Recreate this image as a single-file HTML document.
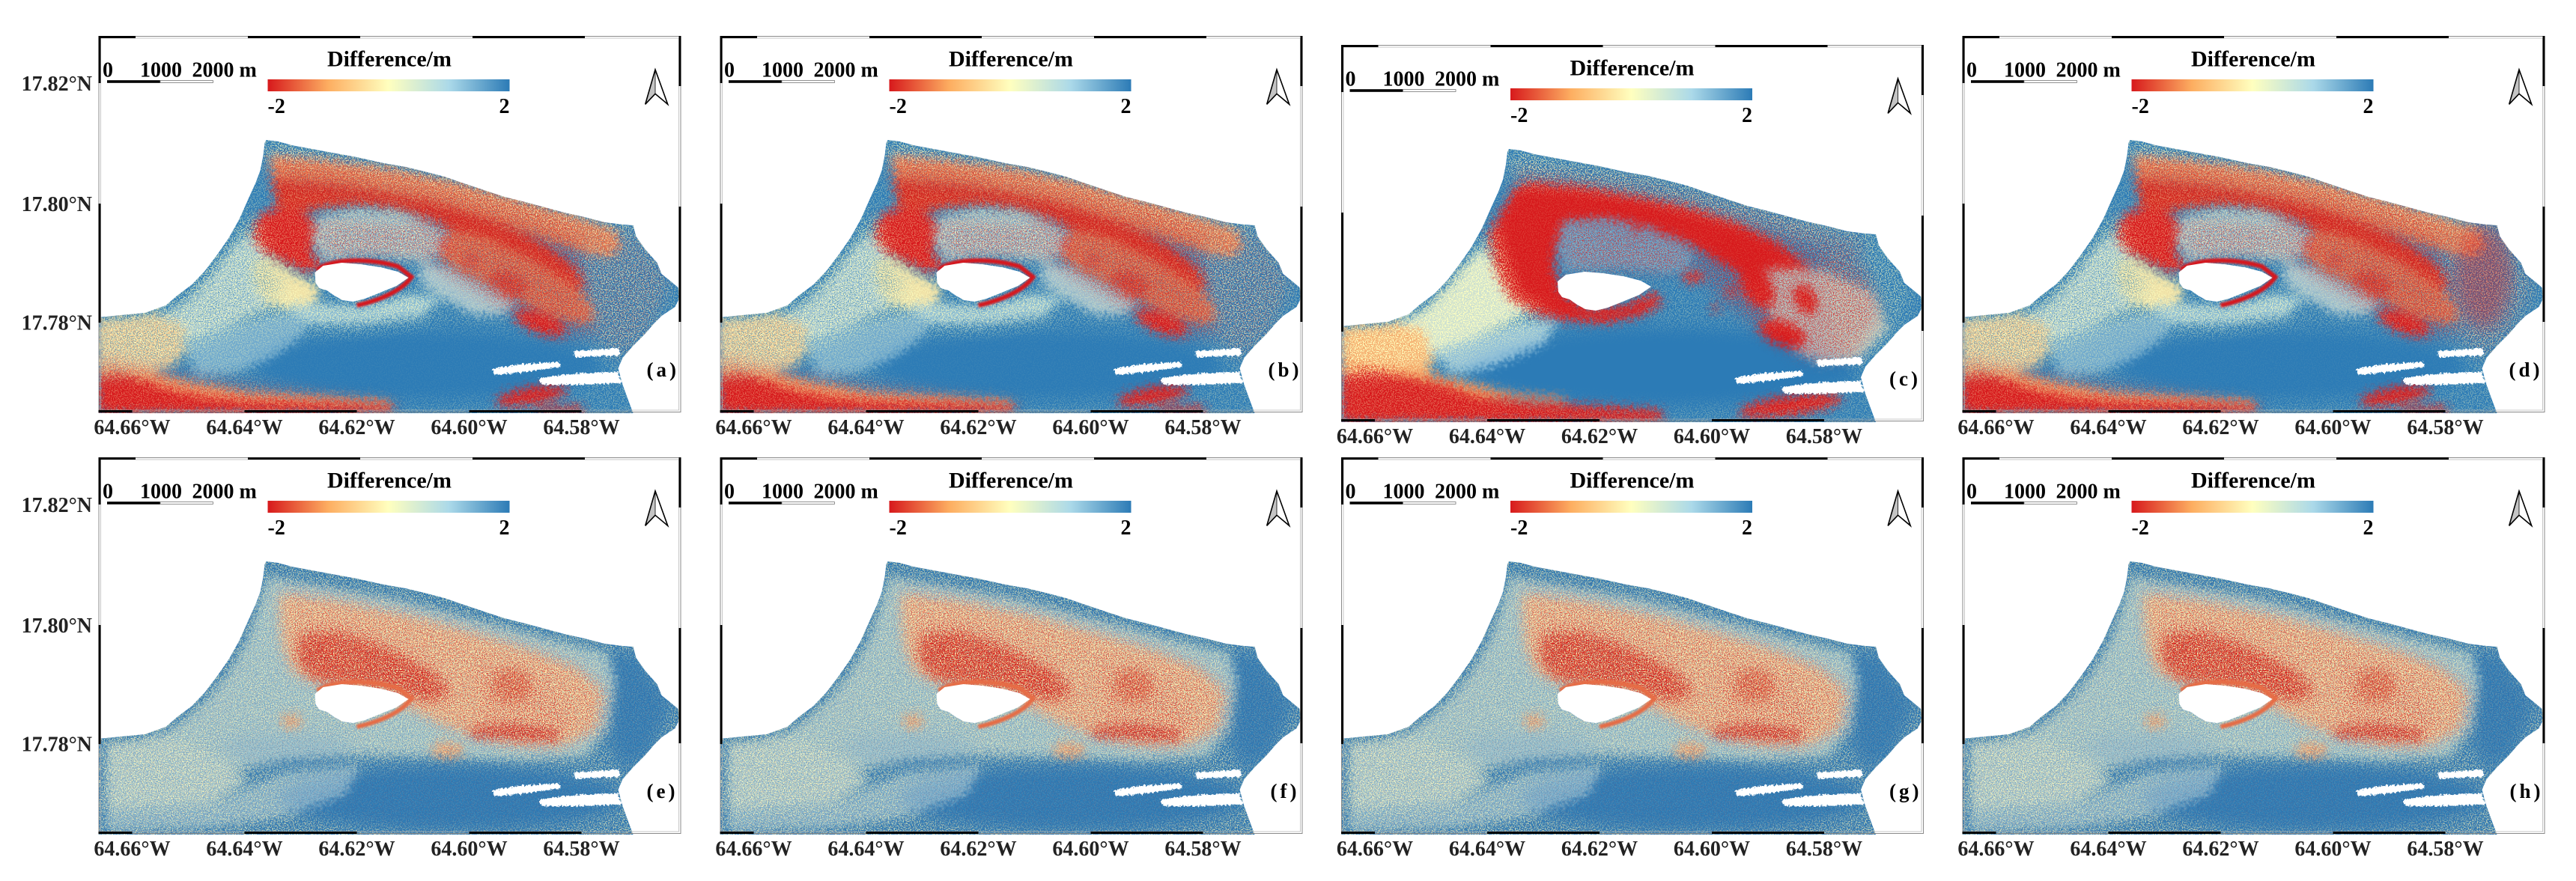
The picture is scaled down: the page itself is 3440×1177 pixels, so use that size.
<!DOCTYPE html>
<html><head><meta charset="utf-8">
<style>
html,body{margin:0;padding:0;background:#fff;width:3440px;height:1177px;overflow:hidden;}
svg{display:block;}
text{font-family:"Liberation Serif","Times New Roman",serif;font-weight:bold;fill:#000;}
.t28{font-size:28px;}
.t30{font-size:30px;}
.lb{font-size:28px;fill:#222;}
.pl{font-size:27px;letter-spacing:4px;}
</style></head><body>
<svg width="3440" height="1177" viewBox="0 0 3440 1177" xmlns="http://www.w3.org/2000/svg">
<defs>
 <linearGradient id="cb" x1="0" x2="1" y1="0" y2="0">
  <stop offset="0" stop-color="#d7191c"/>
  <stop offset="0.25" stop-color="#fdae61"/>
  <stop offset="0.5" stop-color="#ffffbf"/>
  <stop offset="0.75" stop-color="#abd9e9"/>
  <stop offset="1" stop-color="#2c7bb6"/>
 </linearGradient>
 <clipPath id="cp"><polygon points="0,376 30,373 62,370 90,360 105,347 125,332 142,314 158,293 174,270 188,245 200,218 210,196 216,180 220,160 222,143 224,139 240,141 258,146 285,151 312,156 345,162 381,170 410,175 435,181 462,188 488,197 515,206 542,215 570,222 596,229 622,236 649,242 676,249 700,252 714,253 718,268 730,285 746,303 752,318 762,326 774,336 777,348 770,362 752,374 742,384 730,398 714,414 700,430 694,444 700,466 708,488 714,504 0,504"/></clipPath>
 <filter id="bl" filterUnits="userSpaceOnUse" x="-20" y="-20" width="818" height="544" color-interpolation-filters="sRGB">
  <feGaussianBlur in="SourceGraphic" stdDeviation="6" result="b"/>
  <feTurbulence type="fractalNoise" baseFrequency="0.22" numOctaves="2" seed="5" result="t"/>
  <feDisplacementMap in="b" in2="t" scale="20" xChannelSelector="R" yChannelSelector="G"/>
 </filter>
 <filter id="rough" filterUnits="userSpaceOnUse" x="-20" y="-20" width="818" height="544" color-interpolation-filters="sRGB">
  <feTurbulence type="fractalNoise" baseFrequency="0.35" numOctaves="2" seed="8" result="t"/>
  <feDisplacementMap in="SourceGraphic" in2="t" scale="7" xChannelSelector="R" yChannelSelector="G"/>
 </filter>
 <filter id="soft" x="-10%" y="-10%" width="120%" height="120%"><feGaussianBlur stdDeviation="1.2"/></filter>
 <filter id="bl8" x="-10%" y="-10%" width="120%" height="120%"><feGaussianBlur stdDeviation="10"/></filter>
 <filter id="fy" filterUnits="userSpaceOnUse" x="0" y="0" width="778" height="504" color-interpolation-filters="sRGB">
  <feTurbulence type="fractalNoise" baseFrequency="0.65" numOctaves="2" seed="3"/>
  <feColorMatrix type="matrix" values="0 0 0 0 1  0 0 0 0 1  0 0 0 0 0.75  12 0 0 0 -6.0"/>
 </filter>
 <filter id="fr" filterUnits="userSpaceOnUse" x="0" y="0" width="778" height="504" color-interpolation-filters="sRGB">
  <feTurbulence type="fractalNoise" baseFrequency="0.7" numOctaves="2" seed="11"/>
  <feColorMatrix type="matrix" values="0 0 0 0 0.84  0 0 0 0 0.1  0 0 0 0 0.11  0 12 0 0 -6.1"/>
 </filter>
 <filter id="fb" filterUnits="userSpaceOnUse" x="0" y="0" width="778" height="504" color-interpolation-filters="sRGB">
  <feTurbulence type="fractalNoise" baseFrequency="0.7" numOctaves="2" seed="23"/>
  <feColorMatrix type="matrix" values="0 0 0 0 0.17  0 0 0 0 0.48  0 0 0 0 0.71  0 0 12 0 -6.2"/>
 </filter>

 <!-- masks row1 -->
 <mask id="mY1" maskUnits="userSpaceOnUse" x="0" y="0" width="778" height="504">
  <rect width="778" height="504" fill="#5a5a5a"/>
  <g filter="url(#bl8)">
   <polygon points="222,140 300,154 400,172 500,198 600,226 714,254 712,280 640,266 560,240 480,216 400,196 300,176 228,172" fill="#fff"/>
   <polygon points="0,376 100,356 160,292 205,232 236,310 285,366 200,384 120,420 60,448 0,452" fill="#f0f0f0"/>
   <polygon points="640,250 720,262 765,330 735,400 695,432 660,400 645,330" fill="#b0b0b0"/>
   <polygon points="292,244 340,234 400,236 440,250 466,268 456,292 430,300 400,296 370,292 335,294 302,300 288,272" fill="#d0d0d0"/>
   <polygon points="250,360 300,358 350,362 420,345 460,350 430,375 350,385 280,385" fill="#d0d0d0"/>
   <ellipse cx="440" cy="440" rx="235" ry="48" fill="#111"/>
  </g>
 </mask>
 <mask id="mR1" maskUnits="userSpaceOnUse" x="0" y="0" width="778" height="504">
  <rect width="778" height="504" fill="#000"/>
  <g filter="url(#bl8)">
   <polygon points="420,205 520,228 620,262 690,300 700,360 660,400 600,400 540,362 470,322 430,292" fill="#b0b0b0"/>
   <polygon points="230,160 400,180 560,220 700,262 690,290 560,252 400,210 232,196" fill="#a0a0a0"/>
   <polygon points="292,244 440,250 466,268 456,292 400,296 302,300" fill="#888"/>
   <polygon points="0,430 150,458 300,478 400,492 400,504 0,504" fill="#909090"/>
   <polygon points="640,250 720,262 765,330 735,400 695,432 660,400 645,330" fill="#505050"/>
  </g>
 </mask>
 <mask id="mB1" maskUnits="userSpaceOnUse" x="0" y="0" width="778" height="504">
  <rect width="778" height="504" fill="#000"/>
  <g filter="url(#bl8)">
   <polygon points="0,380 40,377 80,372 112,384 122,412 100,440 60,452 0,456" fill="#909090"/>
   <polygon points="80,374 135,340 178,286 198,266 236,312 250,336 205,370 140,398 112,384" fill="#a0a0a0"/>
   <polygon points="292,244 340,234 400,236 440,250 466,268 456,292 430,300 370,292 302,300 288,272" fill="#909090"/>
   <polygon points="232,168 400,188 560,226 688,266 680,296 560,258 400,212 250,196" fill="#707070"/>
   <polygon points="470,258 580,300 660,360 640,384 560,352 480,312" fill="#808080"/>
  </g>
 </mask>
 <!-- masks c -->
 <mask id="mY3" maskUnits="userSpaceOnUse" x="0" y="0" width="778" height="504">
  <rect width="778" height="504" fill="#505050"/>
  <g filter="url(#bl8)">
   <polygon points="222,140 300,154 400,172 500,198 600,226 714,254 712,280 640,266 560,240 480,216 400,196 300,182 228,180" fill="#e0e0e0"/>
   <polygon points="0,376 100,356 160,292 205,240 230,320 270,370 200,390 120,420 60,440 0,445" fill="#f8f8f8"/>
   <polygon points="640,250 720,262 765,330 735,400 695,432 660,400 645,330" fill="#a0a0a0"/>
   <ellipse cx="430" cy="430" rx="265" ry="52" fill="#000"/>
   <polygon points="200,250 240,190 400,200 530,240 600,280 560,330 470,270 300,236 290,300 330,352 420,335 400,365 300,370 230,340" fill="#202020"/>
  </g>
 </mask>
 <mask id="mR3" maskUnits="userSpaceOnUse" x="0" y="0" width="778" height="504">
  <rect width="778" height="504" fill="#000"/>
  <g filter="url(#bl8)">
   <polygon points="520,235 620,262 700,300 720,360 680,420 620,420 560,380 500,330 470,290" fill="#b0b0b0"/>
   <polygon points="295,240 350,232 400,240 445,258 470,277 462,300 430,305 330,300 300,302" fill="#a0a0a0"/>
   <polygon points="230,160 400,180 560,220 700,262 690,290 560,252 400,210 232,196" fill="#707070"/>
  </g>
 </mask>
 <!-- masks row2 -->
 <mask id="mY2" maskUnits="userSpaceOnUse" x="0" y="0" width="778" height="504">
  <rect width="778" height="504" fill="#b0b0b0"/>
  <g filter="url(#bl8)">
   <polygon points="242,178 320,188 420,208 500,230 580,254 640,278 680,312 672,362 622,386 560,386 500,374 450,354 420,336 380,316 330,306 290,300 260,286 246,250" fill="#f0f0f0"/>
   <polygon points="10,382 100,372 160,400 200,432 150,462 60,472 10,472" fill="#e0e0e0"/>
   <ellipse cx="470" cy="455" rx="230" ry="44" fill="#1a1a1a"/>
   <ellipse cx="250" cy="390" rx="90" ry="22" fill="#404040"/>
   <polygon points="680,262 720,262 765,330 735,400 700,420 680,380" fill="#303030"/>
  </g>
 </mask>
 <mask id="mR2" maskUnits="userSpaceOnUse" x="0" y="0" width="778" height="504">
  <rect width="778" height="504" fill="#1a1a1a"/>
  <g filter="url(#bl8)">
   <polygon points="242,178 320,188 420,208 500,230 580,254 640,278 680,312 672,362 622,386 560,386 500,374 450,354 420,336 380,316 330,306 290,300 260,286 246,250" fill="#9a9a9a"/>
   <polygon points="272,232 320,230 370,246 420,268 455,292 470,316 440,326 395,312 350,302 305,302 280,292 264,264" fill="#ffffff"/>
   <polygon points="500,270 600,300 640,360 600,385 520,370" fill="#c0c0c0"/>
  </g>
 </mask>
 <mask id="mB2" maskUnits="userSpaceOnUse" x="0" y="0" width="778" height="504">
  <rect width="778" height="504" fill="#606060"/>
  <g filter="url(#bl8)">
   <polygon points="272,232 320,230 370,246 420,268 455,292 470,316 440,326 395,312 350,302 305,302 280,292 264,264" fill="#202020"/>
   <polygon points="242,178 420,208 580,254 680,312 622,386 500,374 380,316 290,300 246,250" fill="#505050"/>
  </g>
 </mask>

 <g id="holes">
  <polygon points="289,316 300,307 325,303 350,305 377,309 400,315 414,323 398,334 376,343 356,351 340,355 326,353 315,347 305,340 295,337 290,330" fill="#fff"/>
  <g filter="url(#rough)">
   <polygon points="526,444 560,439 615,435 618,442 570,449 528,453" fill="#fff"/>
   <polygon points="634,421 695,417 696,427 636,429" fill="#fff"/>
   <polygon points="588,457 640,451 694,449 698,464 640,466 592,466" fill="#fff"/>
  </g>
 </g>

 <!-- ROW 1 MAP (a, b, d) -->
 <g id="m1">
  <g clip-path="url(#cp)">
   <rect width="778" height="504" fill="#2c7bb6"/>
   <g filter="url(#bl)">
    <polygon points="0,380 40,377 80,372 112,384 122,412 100,440 60,452 0,456" fill="#f2c890"/>
    <polygon points="80,374 110,362 135,340 158,312 178,286 198,266 215,282 236,312 250,336 236,356 205,370 170,386 140,398 122,410 112,384" fill="#b9d5d9"/>
    <polygon points="205,300 232,298 262,318 290,330 296,348 280,362 250,364 222,356 208,330" fill="#efe0a6"/>
    <polygon points="110,405 160,390 230,372 285,366 272,400 232,430 182,450 132,456" fill="#6fa9cd"/>
    <polygon points="250,360 300,358 350,362 420,345 460,350 430,375 350,385 280,385" fill="#8fbfd6"/>
    <polygon points="0,438 60,446 120,462 200,476 300,482 390,488 392,496 300,492 200,488 140,482 100,474 70,464 30,452 0,454" fill="#f29a62"/>
    <polygon points="0,456 30,452 70,464 100,474 140,482 200,488 260,490 330,492 390,495 392,504 0,504" fill="#d7191c"/>
    <polygon points="230,160 300,166 400,180 480,197 560,219 640,243 690,260 698,282 680,296 640,286 560,258 480,232 400,212 320,200 250,196 234,194" fill="#ea7a4c"/>
    <polygon points="232,190 250,192 320,198 400,210 460,226 520,244 570,264 610,288 640,312 650,336 630,346 600,332 570,312 540,294 505,274 470,258 440,244 400,232 350,226 300,230 270,236 240,244" fill="#d4261e"/>
    <polygon points="470,258 520,270 580,300 630,330 660,360 662,380 640,384 600,372 560,352 520,332 480,312 452,290" fill="#e2724b"/>
    <polygon points="206,262 214,240 232,232 262,232 285,242 292,262 284,290 300,306 288,316 268,312 244,300 222,290 208,278" fill="#d7191c"/>
    <polygon points="292,244 340,234 400,236 440,250 466,268 456,292 430,300 400,296 370,292 335,294 302,300 288,272" fill="#a8c8d3"/>
    <polygon points="430,300 470,310 520,336 560,356 540,372 500,372 460,350 430,330" fill="#9ebfcf"/>
    <ellipse cx="590" cy="383" rx="36" ry="13" transform="rotate(20 590 383)" fill="#d7191c"/>
    <ellipse cx="548" cy="332" rx="26" ry="16" transform="rotate(25 548 332)" fill="#dc3a28"/>
    <circle cx="462" cy="279" r="7" fill="#d7191c"/>
    <circle cx="498" cy="300" r="6" fill="#d7191c"/>
    <ellipse cx="578" cy="481" rx="48" ry="11" transform="rotate(-10 578 481)" fill="#d7191c"/>
    <polygon points="585,497 645,494 650,504 585,504" fill="#d7191c"/>
   </g>
   <rect width="778" height="504" filter="url(#fy)" mask="url(#mY1)"/>
   <rect width="778" height="504" filter="url(#fb)" mask="url(#mB1)"/>
   <rect width="778" height="504" filter="url(#fr)" mask="url(#mR1)"/>
   <path d="M292,312 C312,298 360,296 400,308 L418,322 C404,342 372,354 345,360" fill="none" stroke="#d7191c" stroke-width="6" filter="url(#soft)"/>
   <use href="#holes"/>
  </g>
 </g>

 <!-- C MAP -->
 <g id="m3">
  <g clip-path="url(#cp)">
   <rect width="778" height="504" fill="#2c7bb6"/>
   <g filter="url(#bl)">
    <polygon points="0,378 60,374 100,368 125,392 118,440 60,450 0,448" fill="#f5b071"/>
    <polygon points="70,372 110,356 140,325 165,295 190,268 205,300 235,330 250,355 220,372 180,390 140,405 120,410 110,380" fill="#cde0cf"/>
    <polygon points="120,410 180,390 240,370 290,368 270,400 200,430 150,440" fill="#8fbfd8"/>
    <polygon points="0,420 60,428 120,440 183,455 230,466 300,472 300,478 183,470 140,455 90,445 40,434 0,436" fill="#f08a50"/>
    <polygon points="0,440 40,434 90,445 140,455 183,470 250,478 330,482 428,488 430,504 0,504" fill="#d7191c"/>
    <polygon points="196,255 212,225 232,190 250,182 320,188 400,202 470,217 530,237 580,262 620,292 650,322 660,350 640,370 600,360 570,335 540,310 505,290 470,270 440,255 400,240 350,232 300,236 290,260 284,295 295,330 330,352 380,348 420,330 430,345 400,362 350,372 300,368 260,360 225,340 205,300" fill="#d7191c"/>
    <polygon points="295,238 350,232 400,240 445,258 470,277 462,300 430,305 400,300 370,298 330,300 300,302 290,270" fill="#5d9cc8"/>
    <polygon points="560,300 640,300 710,330 730,380 690,420 640,425 600,405 575,370" fill="#a9b9bf"/>
    <ellipse cx="555" cy="322" rx="20" ry="34" transform="rotate(-30 555 322)" fill="#d7191c"/>
    <ellipse cx="590" cy="385" rx="33" ry="16" transform="rotate(20 590 385)" fill="#d7191c"/>
    <ellipse cx="620" cy="340" rx="14" ry="22" transform="rotate(-30 620 340)" fill="#d7191c"/>
    <ellipse cx="470" cy="310" rx="14" ry="8" fill="#d7191c"/>
    <circle cx="395" cy="246" r="6" fill="#d7191c"/>
    <circle cx="430" cy="252" r="5" fill="#d7191c"/>
    <circle cx="520" cy="330" r="6" fill="#d7191c"/>
    <circle cx="500" cy="352" r="5" fill="#d7191c"/>
    <ellipse cx="600" cy="482" rx="70" ry="13" transform="rotate(-8 600 482)" fill="#d7191c"/>
   </g>
   <rect width="778" height="504" filter="url(#fy)" mask="url(#mY3)"/>
   <rect width="778" height="504" filter="url(#fr)" mask="url(#mR3)"/>
   <use href="#holes"/>
  </g>
 </g>

 <!-- ROW 2 MAP -->
 <g id="m2">
  <g clip-path="url(#cp)">
   <rect width="778" height="504" fill="#2c7bb6"/>
   <g filter="url(#bl)">
    <polygon points="12,382 60,376 100,362 138,330 172,290 198,245 212,205 226,160 300,172 400,190 500,216 600,242 680,262 690,300 680,360 650,400 560,405 450,400 350,398 250,405 150,425 80,445 12,455" fill="#9cc4d0"/>
    <polygon points="10,382 100,374 160,402 200,432 150,462 60,472 10,472" fill="#a8cad2"/>
    <polygon points="10,470 150,462 250,420 350,410 330,450 250,480 150,495 10,500" fill="#82b4cf"/>
    <polygon points="242,184 320,194 420,214 500,236 580,260 640,284 672,314 664,362 622,384 560,384 500,372 450,352 420,336 380,316 330,306 290,300 260,286 246,250" fill="#f3cb98"/>
    <polygon points="272,236 320,234 370,250 420,272 455,294 470,316 440,326 395,312 350,302 305,302 280,292 264,264" fill="#e2603f"/>
    <polygon points="495,360 560,357 615,365 612,379 560,377 498,374" fill="#d93525"/>
    <ellipse cx="552" cy="305" rx="28" ry="22" fill="#e8774f"/>
    <ellipse cx="466" cy="391" rx="22" ry="11" fill="#f0a070"/>
    <ellipse cx="258" cy="352" rx="14" ry="10" fill="#f0a070"/>
   </g>
   <rect width="778" height="504" filter="url(#fy)" mask="url(#mY2)"/>
   <rect width="778" height="504" filter="url(#fb)" mask="url(#mB2)"/>
   <rect width="778" height="504" filter="url(#fr)" mask="url(#mR2)"/>
   <path d="M292,312 C312,298 360,296 400,308 L418,322 C404,342 372,354 345,360" fill="none" stroke="#e66c45" stroke-width="6" filter="url(#soft)"/>
   <use href="#holes"/>
  </g>
 </g>

 <!-- frame -->
 <g id="frame">
  <rect x="0.5" y="0.5" width="777" height="502" fill="none" stroke="#8a8a8a" stroke-width="1"/>
  <rect x="3" y="3" width="772" height="497" fill="none" stroke="#b0b0b0" stroke-width="0.7"/>
  <rect x="0" y="0" width="49.5" height="3" fill="#000"/>
  <rect x="199.5" y="0" width="150" height="3" fill="#000"/>
  <rect x="499.5" y="0" width="150" height="3" fill="#000"/>
  <rect x="0" y="500" width="45" height="3" fill="#000"/>
  <rect x="195" y="500" width="150" height="3" fill="#000"/>
  <rect x="495" y="500" width="150" height="3" fill="#000"/>
  <rect x="0" y="0" width="3" height="63" fill="#000"/>
  <rect x="0" y="224" width="3" height="159" fill="#000"/>
  <rect x="775" y="0" width="3" height="67" fill="#000"/>
  <rect x="775" y="228" width="3" height="154" fill="#000"/>
 </g>
 <g id="deco">
  <rect x="11.5" y="59.2" width="71" height="3.6" fill="#000"/>
  <rect x="82.5" y="59.6" width="70.5" height="2.8" fill="#fff" stroke="#777" stroke-width="0.8"/>
  <rect x="226" y="58" width="323" height="16" fill="url(#cb)"/>
  <polygon points="743.5,46 731,90.5 743.5,77.3" fill="#c4c4c4"/>
  <polygon points="743.5,45 730.2,91.3 743.5,77.3 760.2,91.3" fill="none" stroke="#000" stroke-width="1.6" stroke-linejoin="miter"/>
  <line x1="743.5" y1="45" x2="743.5" y2="77.3" stroke="#000" stroke-width="0.8"/>
 </g>
</defs>

<rect width="3440" height="1177" fill="#fff"/>

<!-- (a) -->
<g transform="translate(131.5,48)">
 <use href="#m1"/><use href="#frame"/><use href="#deco"/>
 <text x="5.5" y="54.5" class="t28">0</text><text x="55.5" y="54.5" class="t28">1000</text><text x="125" y="54.5" class="t28">2000 m</text>
 <text x="388.5" y="40.5" text-anchor="middle" class="t30">Difference/m</text>
 <text x="226" y="103" class="t28">-2</text><text x="549" y="103" text-anchor="end" class="t28">2</text>
 <text x="732" y="455" class="pl">(a)</text>
 <text x="-8.5" y="73" text-anchor="end" class="lb">17.82°N</text>
 <text x="-8.5" y="234" text-anchor="end" class="lb">17.80°N</text>
 <text x="-8.5" y="392.5" text-anchor="end" class="lb">17.78°N</text>
 <text x="45" y="532" text-anchor="middle" class="lb">64.66°W</text>
 <text x="195" y="532" text-anchor="middle" class="lb">64.64°W</text>
 <text x="345" y="532" text-anchor="middle" class="lb">64.62°W</text>
 <text x="495" y="532" text-anchor="middle" class="lb">64.60°W</text>
 <text x="645" y="532" text-anchor="middle" class="lb">64.58°W</text>
</g>

<!-- (b) -->
<g transform="translate(961.5,48)">
 <use href="#m1"/><use href="#frame"/><use href="#deco"/>
 <text x="5.5" y="54.5" class="t28">0</text><text x="55.5" y="54.5" class="t28">1000</text><text x="125" y="54.5" class="t28">2000 m</text>
 <text x="388.5" y="40.5" text-anchor="middle" class="t30">Difference/m</text>
 <text x="226" y="103" class="t28">-2</text><text x="549" y="103" text-anchor="end" class="t28">2</text>
 <text x="732" y="455" class="pl">(b)</text>
 <text x="45" y="532" text-anchor="middle" class="lb">64.66°W</text>
 <text x="195" y="532" text-anchor="middle" class="lb">64.64°W</text>
 <text x="345" y="532" text-anchor="middle" class="lb">64.62°W</text>
 <text x="495" y="532" text-anchor="middle" class="lb">64.60°W</text>
 <text x="645" y="532" text-anchor="middle" class="lb">64.58°W</text>
</g>

<!-- (c) -->
<g transform="translate(1791,60)">
 <use href="#m3"/><use href="#frame"/><use href="#deco"/>
 <text x="5.5" y="54.5" class="t28">0</text><text x="55.5" y="54.5" class="t28">1000</text><text x="125" y="54.5" class="t28">2000 m</text>
 <text x="388.5" y="40.5" text-anchor="middle" class="t30">Difference/m</text>
 <text x="226" y="103" class="t28">-2</text><text x="549" y="103" text-anchor="end" class="t28">2</text>
 <text x="732" y="455" class="pl">(c)</text>
 <text x="45" y="532" text-anchor="middle" class="lb">64.66°W</text>
 <text x="195" y="532" text-anchor="middle" class="lb">64.64°W</text>
 <text x="345" y="532" text-anchor="middle" class="lb">64.62°W</text>
 <text x="495" y="532" text-anchor="middle" class="lb">64.60°W</text>
 <text x="645" y="532" text-anchor="middle" class="lb">64.58°W</text>
</g>

<!-- (d) -->
<g transform="translate(2620.5,48)">
 <use href="#m1"/>
 <g clip-path="url(#cp)"><ellipse cx="695" cy="320" rx="38" ry="70" fill="#d7191c" opacity="0.35" filter="url(#bl8)"/></g>
 <use href="#frame"/><use href="#deco"/>
 <text x="5.5" y="54.5" class="t28">0</text><text x="55.5" y="54.5" class="t28">1000</text><text x="125" y="54.5" class="t28">2000 m</text>
 <text x="388.5" y="40.5" text-anchor="middle" class="t30">Difference/m</text>
 <text x="226" y="103" class="t28">-2</text><text x="549" y="103" text-anchor="end" class="t28">2</text>
 <text x="730" y="455" class="pl">(d)</text>
 <text x="45" y="532" text-anchor="middle" class="lb">64.66°W</text>
 <text x="195" y="532" text-anchor="middle" class="lb">64.64°W</text>
 <text x="345" y="532" text-anchor="middle" class="lb">64.62°W</text>
 <text x="495" y="532" text-anchor="middle" class="lb">64.60°W</text>
 <text x="645" y="532" text-anchor="middle" class="lb">64.58°W</text>
</g>

<!-- (e) -->
<g transform="translate(131.5,611)">
 <use href="#m2"/><use href="#frame"/><use href="#deco"/>
 <text x="5.5" y="54.5" class="t28">0</text><text x="55.5" y="54.5" class="t28">1000</text><text x="125" y="54.5" class="t28">2000 m</text>
 <text x="388.5" y="40.5" text-anchor="middle" class="t30">Difference/m</text>
 <text x="226" y="103" class="t28">-2</text><text x="549" y="103" text-anchor="end" class="t28">2</text>
 <text x="732" y="455" class="pl">(e)</text>
 <text x="-8.5" y="73" text-anchor="end" class="lb">17.82°N</text>
 <text x="-8.5" y="234" text-anchor="end" class="lb">17.80°N</text>
 <text x="-8.5" y="392.5" text-anchor="end" class="lb">17.78°N</text>
 <text x="45" y="532" text-anchor="middle" class="lb">64.66°W</text>
 <text x="195" y="532" text-anchor="middle" class="lb">64.64°W</text>
 <text x="345" y="532" text-anchor="middle" class="lb">64.62°W</text>
 <text x="495" y="532" text-anchor="middle" class="lb">64.60°W</text>
 <text x="645" y="532" text-anchor="middle" class="lb">64.58°W</text>
</g>

<!-- (f) -->
<g transform="translate(961.5,611)">
 <use href="#m2"/><use href="#frame"/><use href="#deco"/>
 <text x="5.5" y="54.5" class="t28">0</text><text x="55.5" y="54.5" class="t28">1000</text><text x="125" y="54.5" class="t28">2000 m</text>
 <text x="388.5" y="40.5" text-anchor="middle" class="t30">Difference/m</text>
 <text x="226" y="103" class="t28">-2</text><text x="549" y="103" text-anchor="end" class="t28">2</text>
 <text x="735" y="455" class="pl">(f)</text>
 <text x="45" y="532" text-anchor="middle" class="lb">64.66°W</text>
 <text x="195" y="532" text-anchor="middle" class="lb">64.64°W</text>
 <text x="345" y="532" text-anchor="middle" class="lb">64.62°W</text>
 <text x="495" y="532" text-anchor="middle" class="lb">64.60°W</text>
 <text x="645" y="532" text-anchor="middle" class="lb">64.58°W</text>
</g>

<!-- (g) -->
<g transform="translate(1791,611)">
 <use href="#m2"/><use href="#frame"/><use href="#deco"/>
 <text x="5.5" y="54.5" class="t28">0</text><text x="55.5" y="54.5" class="t28">1000</text><text x="125" y="54.5" class="t28">2000 m</text>
 <text x="388.5" y="40.5" text-anchor="middle" class="t30">Difference/m</text>
 <text x="226" y="103" class="t28">-2</text><text x="549" y="103" text-anchor="end" class="t28">2</text>
 <text x="732" y="455" class="pl">(g)</text>
 <text x="45" y="532" text-anchor="middle" class="lb">64.66°W</text>
 <text x="195" y="532" text-anchor="middle" class="lb">64.64°W</text>
 <text x="345" y="532" text-anchor="middle" class="lb">64.62°W</text>
 <text x="495" y="532" text-anchor="middle" class="lb">64.60°W</text>
 <text x="645" y="532" text-anchor="middle" class="lb">64.58°W</text>
</g>

<!-- (h) -->
<g transform="translate(2620.5,611)">
 <use href="#m2"/><use href="#frame"/><use href="#deco"/>
 <text x="5.5" y="54.5" class="t28">0</text><text x="55.5" y="54.5" class="t28">1000</text><text x="125" y="54.5" class="t28">2000 m</text>
 <text x="388.5" y="40.5" text-anchor="middle" class="t30">Difference/m</text>
 <text x="226" y="103" class="t28">-2</text><text x="549" y="103" text-anchor="end" class="t28">2</text>
 <text x="731" y="455" class="pl">(h)</text>
 <text x="45" y="532" text-anchor="middle" class="lb">64.66°W</text>
 <text x="195" y="532" text-anchor="middle" class="lb">64.64°W</text>
 <text x="345" y="532" text-anchor="middle" class="lb">64.62°W</text>
 <text x="495" y="532" text-anchor="middle" class="lb">64.60°W</text>
 <text x="645" y="532" text-anchor="middle" class="lb">64.58°W</text>
</g>
</svg>
</body></html>
